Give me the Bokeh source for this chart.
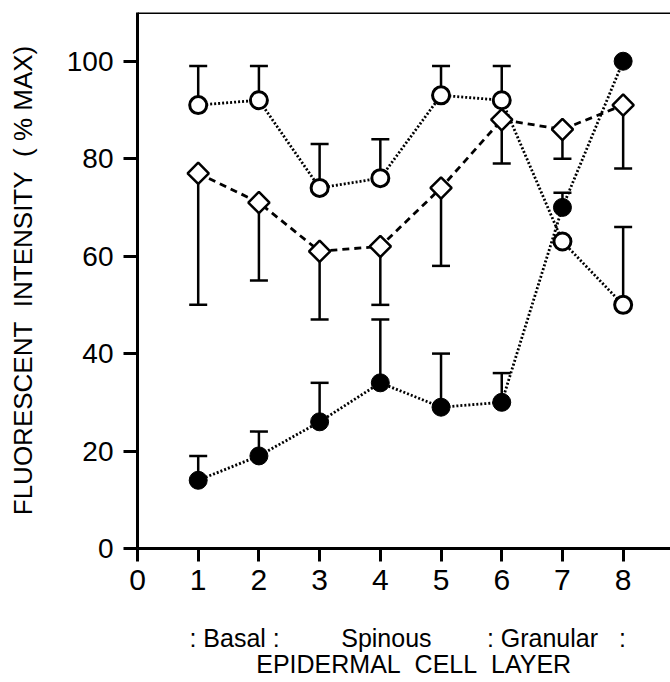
import numpy as np
from bokeh.plotting import figure
from bokeh.models import Span, FixedTicker, LinearAxis
from bokeh.embed import file_html
from bokeh.resources import INLINE

# ---- data ----
layers = [1, 2, 3, 4, 5, 6, 7, 8]
open_mean = [91, 92, 74, 76, 93, 92, 63, 50]
open_err_up = [8, 7, 9, 8, 6, 7, 0, 16]
diamond_mean = [77, 71, 61, 62, 74, 88, 86, 91]
diamond_err_down = [27, 16, 14, 12, 16, 9, 6, 13]
filled_mean = [14, 19, 26, 34, 29, 30, 70, 100]
filled_err_up = [5, 5, 8, 13, 11, 6, 3, 0]
x_ticks = [0, 1, 2, 3, 4, 5, 6, 7, 8]
y_ticks = [0, 20, 40, 60, 80, 100]
layer_group_labels = [": Basal :", "Spinous", ": Granular\u00a0\u00a0 :"]
layer_group_pos = [1.6, 4.1, 6.9]
x_title = "EPIDERMAL\u00a0 CELL\u00a0 LAYER"
x_title_pos = 4.55
y_title = "FLUORESCENT\u00a0 INTENSITY\u00a0 ( % MAX)"

FONT = "Liberation Sans"

p = figure(width=670, height=682, x_range=(0, 8.78), y_range=(0, 110),
           output_backend="svg", toolbar_location=None,
           min_border_left=137, min_border_right=0, min_border_top=12, min_border_bottom=134)
p.grid.visible = False
p.outline_line_color = None
p.background_fill_color = "white"
p.border_fill_color = "white"

# axes
for ax, tick_len, fs in ((p.xaxis[0], 13, "30px"), (p.yaxis[0], 14, "28px")):
    ax.axis_line_width = 3
    ax.axis_line_color = "black"
    ax.major_tick_line_width = 3
    ax.major_tick_line_color = "black"
    ax.major_tick_in = 0
    ax.major_tick_out = tick_len
    ax.minor_tick_line_color = None
    ax.major_label_text_font = FONT
    ax.major_label_text_font_size = fs
    ax.major_label_text_color = "black"
p.xaxis.major_label_standoff = 8
p.yaxis.major_label_standoff = 10

p.xaxis.ticker = FixedTicker(ticks=x_ticks)
p.yaxis.ticker = FixedTicker(ticks=y_ticks)
p.yaxis.axis_label = y_title
p.yaxis.axis_label_text_font = FONT
p.yaxis.axis_label_text_font_size = "26px"
p.yaxis.axis_label_text_font_style = "normal"
p.yaxis.axis_label_text_color = "black"
p.yaxis.axis_label_standoff = 26


def text_axis(ticks, labels, standoff):
    ax = LinearAxis(ticker=FixedTicker(ticks=ticks),
                    major_label_overrides={t: l for t, l in zip(ticks, labels)})
    ax.axis_line_color = None
    ax.major_tick_line_color = None
    ax.minor_tick_line_color = None
    ax.major_tick_in = 0
    ax.major_tick_out = 0
    ax.major_label_standoff = standoff
    ax.major_label_text_font = FONT
    ax.major_label_text_font_size = "25px"
    ax.major_label_text_color = "black"
    p.add_layout(ax, "below")
    return ax


text_axis(layer_group_pos, layer_group_labels, 31)
text_axis([x_title_pos], [x_title], -5)

# top frame line
p.add_layout(Span(location=110, dimension="width", line_color="black", line_width=3))

x = np.array(layers, dtype=float)
om = np.array(open_mean, dtype=float)
dm = np.array(diamond_mean, dtype=float)
fm = np.array(filled_mean, dtype=float)
ou = om + np.array(open_err_up)
dl = dm - np.array(diamond_err_down)
fu = fm + np.array(filled_err_up)

# connecting lines
p.line(x, om, line_color="black", line_width=2.8, line_dash="2 2")
p.line(x, fm, line_color="black", line_width=2.8, line_dash="2 2")
p.line(x, dm, line_color="black", line_width=2.8, line_dash="7 5")


# error bars (one-sided with cap)
def errbars(x0, y0, y1):
    mask = y1 != y0
    p.segment(x0[mask], y0[mask], x0[mask], y1[mask], line_color="black", line_width=2.5)
    p.scatter(x0[mask], y1[mask], marker="dash", size=18, line_color="black", line_width=2.5)


errbars(x, om, ou)
errbars(x, dm, dl)
errbars(x, fm, fu)

# markers
p.scatter(x, dm, marker="square", angle=np.pi / 4, size=15, fill_color="white",
          line_color="black", line_width=2.5)
p.scatter(x, om, marker="circle", size=17, fill_color="white", line_color="black", line_width=3)
p.scatter(x, fm, marker="circle", size=18, fill_color="black", line_color="black", line_width=1)

open("out.html", "w").write(file_html(p, INLINE))
